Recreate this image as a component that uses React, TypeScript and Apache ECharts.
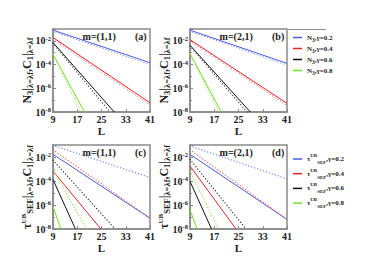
import React, { useEffect, useRef } from 'react';
import * as echarts from 'echarts';

const FONT = '"Liberation Serif", "Times New Roman", serif';

const gammaLabels = ['0.2', '0.4', '0.6', '0.8'];
const xTicks = [9, 17, 25, 33, 41];
const yTickExponents = [-8, -6, -4, -2];
const panelTitles = ['m=(1,1)', 'm=(2,1)', 'm=(1,1)', 'm=(2,1)'];
const panelTags = ['(a)', '(b)', '(c)', '(d)'];

// Each line: [[L, log10(value)], [L, log10(value)]] for gamma = 0.2, 0.4, 0.6, 0.8
const aSolid = [
  [[9, -1.1], [41, -3.84]],
  [[9, -1.72], [41, -7.22]],
  [[9, -2.14], [29.2, -8]],
  [[9, -3.13], [19.4, -8]],
];
const aDotted = [
  [[9, -1.2], [41, -4.0]],
  [[9, -1.85], [41, -7.4]],
  [[9, -2.2], [27.8, -8]],
  [[9, -3.1], [18.2, -8]],
];
const bSolid = [
  [[9, -1.1], [41, -3.9]],
  [[9, -1.9], [41, -7.27]],
  [[9, -2.37], [28.9, -8]],
  [[9, -3.07], [19.3, -8]],
];
const bDotted = [
  [[9, -1.2], [41, -4.05]],
  [[9, -2.0], [41, -7.45]],
  [[9, -2.45], [27.8, -8]],
  [[9, -3.1], [18.5, -8]],
];
const cSolid = [
  [[9, -1.78], [41, -7.1]],
  [[9, -3.18], [24.8, -8]],
  [[9, -3.88], [16.4, -8]],
  [[9, -6.13], [11.6, -8]],
];
const cDotted = [
  [[9, -1.03], [41, -3.71]],
  [[9, -1.4], [41, -7.1]],
  [[9, -2.26], [29.5, -8]],
  [[9, -3.04], [20, -8]],
];
const dSolid = [
  [[9, -1.78], [41, -7.2]],
  [[9, -2.76], [24.2, -8]],
  [[9, -4.03], [16.1, -8]],
  [[9, -6.4], [11.3, -8]],
];
const dDotted = [
  [[9, -1.08], [41, -3.82]],
  [[9, -1.4], [41, -7.2]],
  [[9, -2.2], [27.5, -8]],
  [[9, -3.18], [18.4, -8]],
];

const solidColors = ['#4a5be3', '#e8262b', '#111111', '#6fe02a'];
const dottedColorsAB = ['#8d9cf0', '#f28b8b', '#444444', '#9ee86a'];
const dottedColorsCD = ['#6f7fe8', '#ee6060', '#333333', '#8fe650'];

const grids = [
  { left: 53, top: 29, width: 97, height: 83 },
  { left: 190, top: 29, width: 97, height: 83 },
  { left: 53, top: 145, width: 97, height: 84 },
  { left: 190, top: 145, width: 97, height: 84 },
];

const richSub = {
  n: { fontFamily: FONT, fontWeight: 'bold', fontSize: 12, color: '#222', lineHeight: 14 },
  s: { fontFamily: FONT, fontWeight: 'bold', fontSize: 8.5, color: '#222', verticalAlign: 'bottom', lineHeight: 10 },
  u: { fontFamily: FONT, fontWeight: 'bold', fontSize: 7, color: '#222', verticalAlign: 'top', lineHeight: 8 },
};

const nameN = '{n|N}{s|3}{n||}{s|λ=λf}{n|,C}{s|1}{n||}{s|λ=λf}';
const nameTau = '{n|τ}{u|UB}{s|SEF}{n||}{s|λ=λf}{n|,C}{s|1}{n||}{s|λ=λf}';

export default function App() {
  const ref = useRef<HTMLDivElement>(null);
  useEffect(() => {
    if (!ref.current) return;
    const chart = echarts.init(ref.current, null, { renderer: 'svg' });
    const panels = [
      { solid: aSolid, dotted: aDotted, dot: dottedColorsAB, yname: nameN },
      { solid: bSolid, dotted: bDotted, dot: dottedColorsAB, yname: nameN },
      { solid: cSolid, dotted: cDotted, dot: dottedColorsCD, yname: nameTau },
      { solid: dSolid, dotted: dDotted, dot: dottedColorsCD, yname: nameTau },
    ];
    const series: any[] = [];
    panels.forEach((p, pi) => {
      p.solid.forEach((d, i) => {
        series.push({
          type: 'line', name: `${pi}-${i}`, xAxisIndex: pi, yAxisIndex: pi, data: d,
          symbol: 'none', showSymbol: false,
          lineStyle: { color: solidColors[i], width: 1 },
          itemStyle: { color: solidColors[i] },
        });
      });
      p.dotted.forEach((d, i) => {
        series.push({
          type: 'line', name: `${pi}-dot-${i}`, xAxisIndex: pi, yAxisIndex: pi, data: d,
          symbol: 'none', showSymbol: false,
          lineStyle: { color: p.dot[i], width: 1.3, type: [0.1, 3], cap: 'round' },
          itemStyle: { color: p.dot[i] },
        });
      });
    });

    const gridAxisColor = '#8a8a8a';
    const option: any = {
      animation: false,
      grid: grids.map((g) => ({ ...g, show: true, borderColor: gridAxisColor, borderWidth: 1.5, backgroundColor: 'transparent' })),
      xAxis: grids.map((_, i) => ({
        type: 'value', gridIndex: i, min: xTicks[0], max: xTicks[xTicks.length - 1], interval: 8,
        name: 'L', nameLocation: 'middle', nameGap: 13, nameMoveOverlap: false,
        nameTextStyle: { fontFamily: FONT, fontWeight: 'bold', fontSize: 11, color: '#222' },
        axisLine: { show: true, lineStyle: { color: gridAxisColor, width: 1.5 } },
        axisTick: { show: true, inside: true, length: 3, lineStyle: { color: gridAxisColor } },
        axisLabel: { fontFamily: FONT, fontWeight: 'bold', fontSize: 10, color: '#222', margin: 2 },
        splitLine: { show: false },
      })),
      yAxis: grids.map((_, i) => ({
        type: 'value', gridIndex: i, min: yTickExponents[0], max: -1, interval: 2,
        name: panels[i].yname, nameLocation: 'middle', nameRotate: 90, nameGap: 19, nameMoveOverlap: false,
        nameTextStyle: { rich: richSub },
        axisLine: { show: true, lineStyle: { color: gridAxisColor, width: 1.5 } },
        axisTick: { show: true, inside: true, length: 3, lineStyle: { color: gridAxisColor } },
        minorTick: { show: true, splitNumber: 2, length: 2, lineStyle: { color: gridAxisColor } },
        axisLabel: {
          margin: 2,
          formatter: (v: number) => (yTickExponents.includes(v) ? `{b|10}{e|${v}}` : ''),
          rich: {
            b: { fontFamily: FONT, fontWeight: 'bold', fontSize: 10, color: '#222', lineHeight: 12 },
            e: { fontFamily: FONT, fontWeight: 'bold', fontSize: 6.5, color: '#222', verticalAlign: 'top', lineHeight: 8 },
          },
        },
        splitLine: { show: false },
      })),
      legend: [
        {
          data: gammaLabels.map((_, i) => `1-${i}`), orient: 'vertical', left: 288, top: 29,
          icon: 'rect', itemWidth: 9, itemHeight: 1.5, itemGap: 2.5, selectedMode: false,
          formatter: (name: string) => `{n|N}{s|3}{n|,γ=${gammaLabels[Number(name.split('-')[1])]}}`,
          textStyle: {
            rich: {
              n: { fontFamily: FONT, fontWeight: 'bold', fontSize: 7, color: '#222', lineHeight: 10 },
              s: { fontFamily: FONT, fontWeight: 'bold', fontSize: 5.5, color: '#222', verticalAlign: 'bottom', lineHeight: 8 },
            },
          },
        },
        {
          data: gammaLabels.map((_, i) => `3-${i}`), orient: 'vertical', left: 288, top: 148,
          icon: 'rect', itemWidth: 9, itemHeight: 1.5, itemGap: 2.7, selectedMode: false,
          formatter: (name: string) => `{n|τ}{u|UB}{s|SEF}{n|,γ=${gammaLabels[Number(name.split('-')[1])]}}`,
          textStyle: {
            rich: {
              n: { fontFamily: FONT, fontWeight: 'bold', fontSize: 7, color: '#222', lineHeight: 12 },
              s: { fontFamily: FONT, fontWeight: 'bold', fontSize: 5, color: '#222', verticalAlign: 'bottom', lineHeight: 8 },
              u: { fontFamily: FONT, fontWeight: 'bold', fontSize: 5, color: '#222', verticalAlign: 'top', lineHeight: 8 },
            },
          },
        },
      ],
      graphic: [
        ...grids.map((g, i) => ({
          type: 'text', left: g.left + g.width * 0.48 - 17, top: g.top + 2,
          style: { text: panelTitles[i], fontFamily: FONT, fontWeight: 'bold', fontSize: 10, fill: '#222' },
        })),
        ...grids.map((g, i) => ({
          type: 'text', left: g.left + g.width - 15, top: g.top + 2,
          style: { text: panelTags[i], fontFamily: FONT, fontWeight: 'bold', fontSize: 10, fill: '#222' },
        })),
        { type: 'line', shape: { x1: 288, y1: 29.5, x2: 326, y2: 29.5 }, style: { stroke: gridAxisColor, lineWidth: 1 } },
      ],
      series,
    };
    chart.setOption(option);
    return () => chart.dispose();
  }, []);
  return <div ref={ref} style={{ position: 'absolute', left: 0, top: 0, width: 374, height: 270 }} />;
}
